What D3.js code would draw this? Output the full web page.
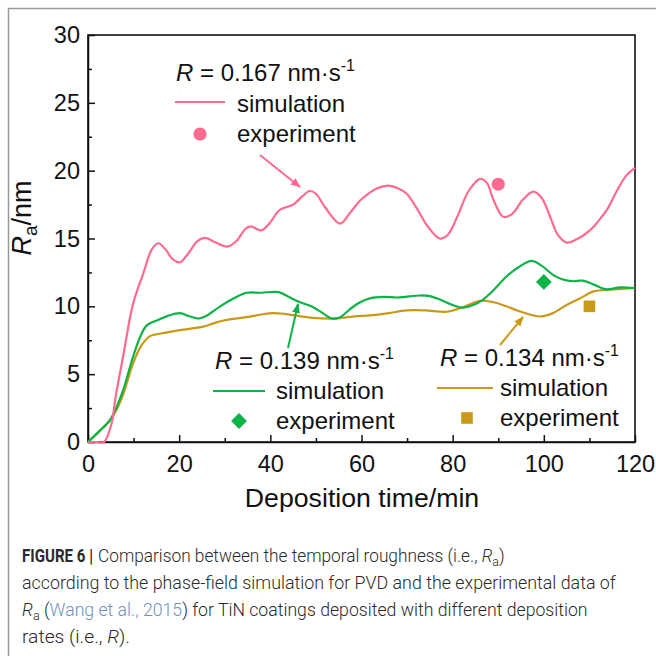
<!DOCTYPE html>
<html>
<head>
<meta charset="utf-8">
<script src="https://cdn.jsdelivr.net/npm/d3@7"></script>
<style>
  body { margin: 0; background: #fff; }
  svg { display: block; }
  .axis text { font-family: "Liberation Sans", Arial, sans-serif; font-size: 23.5px; fill: #111; }
  .axis path, .axis line { stroke: #111; stroke-width: 1.5; }
  .lbl { font-family: "Liberation Sans", Arial, sans-serif; font-size: 24px; fill: #111; }
  .cap { font-family: Roboto, "Liberation Sans", sans-serif; font-size: 17.5px; font-weight: 300; fill: #2a2a2a; }
</style>
</head>
<body>
<div class="chart"></div>
<script>
// pink: R = 0.167 nm/s
const timePink = [0,2,3.5,5.2,6,7.7,9.9,12.1,14,15.4,17,18.5,20.2,22,24,25.7,28,30.5,32.5,34.5,35.7,38,40,42,45,47,48.6,50,52,55.3,57.5,59.7,61.1,63.5,65.9,68,69.9,72,74.5,77.2,79,81,83.5,86,87.5,89,91.1,93,95.5,97.7,99.5,101.5,103,105,107,110.1,112,114,116,118,120];
const raPink   = [0,0,0,1.4,3.2,6.3,10.2,12.4,14.2,14.65,14.2,13.5,13.25,13.9,14.8,15.05,14.7,14.4,14.8,15.7,15.9,15.6,16.2,17.1,17.5,18.1,18.5,18.3,17.3,16.1,16.9,17.8,18.2,18.7,18.9,18.7,18.3,17.3,15.9,15.0,15.3,16.6,18.5,19.4,19.1,17.8,16.6,16.8,17.9,18.45,18.0,16.5,15.3,14.7,14.9,15.6,16.3,17.2,18.5,19.6,20.2];

// green: R = 0.139 nm/s
const timeGreen = [0,2.5,4.8,6.3,7.7,9.9,11.5,12.9,15.4,17.5,20.2,22,24.2,26,29,32,34.8,38,41.8,44,46.5,49,51.5,53.5,55.3,57.5,59.7,62,64.8,68,72.8,75,77.2,80,82.3,84.5,86.7,89,91.8,94.5,97.3,99.5,102.1,104,106.5,108.5,111,113.8,116.7,120];
const raGreen   = [0,0.8,1.6,2.6,3.8,6.3,7.8,8.6,9.0,9.3,9.5,9.3,9.1,9.3,10.0,10.6,11.0,11.0,11.05,10.7,10.3,10.0,9.5,9.1,9.2,9.8,10.3,10.6,10.7,10.65,10.8,10.75,10.5,10.1,9.9,10.1,10.5,11.2,12.2,12.9,13.35,13.0,12.3,12.0,11.85,11.9,11.6,11.25,11.4,11.35];

// gold: R = 0.134 nm/s
const timeGold = [0,2.5,4.8,6.3,7.7,9.9,11.5,13.6,16,20.2,25.3,28,30.4,34.8,38,40.6,43,45,49.4,53.8,57,59.7,62.6,66,69.9,74,78.7,82,86,89,91.8,95,99.2,102,105,108,110.9,113,115.3,118,120];
const raGold   = [0,0.8,1.6,2.4,3.5,5.8,7.0,7.8,8.0,8.25,8.5,8.8,9.0,9.2,9.4,9.5,9.45,9.35,9.15,9.1,9.2,9.3,9.35,9.5,9.7,9.7,9.6,9.9,10.4,10.3,10.0,9.6,9.25,9.5,10.1,10.6,11.1,11.2,11.25,11.3,11.35];

// experimental points
const expTime = [90, 100, 110];
const expRa   = [19.0, 11.8, 10.0];

const rates = ["0.167", "0.139", "0.134"];
const xTicks = [0,20,40,60,80,100,120];
const yTicks = [0,5,10,15,20,25,30];

const colors = ["#ff6b8f", "#0db347", "#c99a1a"];

const W = 656, H = 656;
const margin = {top: 35, right: 21, bottom: 214, left: 88};
const width = W - margin.left - margin.right;
const height = H - margin.top - margin.bottom;

const svg = d3.select(".chart").append("svg")
    .attr("width", W).attr("height", H);

// outer figure frame (top + left only visible)
svg.append("path")
    .attr("d", "M8.5,656 L8.5,8.5 L656,8.5")
    .attr("fill", "none").attr("stroke", "#999").attr("stroke-width", 1.5);

const g = svg.append("g").attr("transform", `translate(${margin.left},${margin.top})`);

const x = d3.scaleLinear().domain([0,120]).range([0,width]);
const y = d3.scaleLinear().domain([0,30]).range([height,0]);

// minor ticks
g.append("g").attr("class","axis")
    .attr("transform", `translate(0,${height})`)
    .call(d3.axisBottom(x).tickValues([10,30,50,70,90,110]).tickSize(-4).tickFormat(""))
    .call(a => a.select(".domain").remove());
g.append("g").attr("class","axis")
    .call(d3.axisLeft(y).tickValues(d3.range(2.5,30,5)).tickSize(-4).tickFormat(""))
    .call(a => a.select(".domain").remove());

// major axes
g.append("g").attr("class","axis")
    .attr("transform", `translate(0,${height})`)
    .call(d3.axisBottom(x).tickValues(xTicks).tickSizeInner(-7).tickSizeOuter(0).tickPadding(13));
g.append("g").attr("class","axis")
    .call(d3.axisLeft(y).tickValues(yTicks).tickSizeInner(-7).tickSizeOuter(0).tickPadding(8));

// plot frame
g.append("rect")
    .attr("width", width).attr("height", height)
    .attr("fill","none").attr("stroke","#111").attr("stroke-width",1.6);

// curves
const series = [
  {t: timePink,  v: raPink},
  {t: timeGreen, v: raGreen},
  {t: timeGold,  v: raGold}
];
const line = d3.line().x(d => x(d[0])).y(d => y(d[1])).curve(d3.curveCatmullRom.alpha(0.5));
// draw gold first, then green, then pink
[2,1,0].forEach(i => {
  const pts = series[i].t.map((t,j) => [t, series[i].v[j]]);
  g.append("path").datum(pts)
    .attr("fill","none").attr("stroke", colors[i]).attr("stroke-width", 2.2)
    .attr("d", line);
});

// experiment markers: circle, diamond (rotated square), square
const symSize = [135, 125, 135];
function marker(sel, i, px, py) {
  let s = d3.symbol().type(i === 0 ? d3.symbolCircle : d3.symbolSquare).size(symSize[i]);
  sel.append("path")
    .attr("d", s())
    .attr("transform", `translate(${px},${py})` + (i === 1 ? " rotate(45)" : ""))
    .attr("fill", colors[i]);
}
expTime.forEach((t,i) => marker(g, i, x(t), y(expRa[i])));

// annotations (absolute coords)
const ann = [
  {tx: 176, ty: 81,  lx1: 175, lx2: 225, ly: 102, st: 237, sy: 112, my: 134, mx: 200, ey: 142,
   a: [260,155,300,187]},
  {tx: 215, ty: 369, lx1: 213, lx2: 265, ly: 391, st: 276, sy: 399, my: 421, mx: 239, ey: 429,
   a: [288,348,298,304]},
  {tx: 440, ty: 366, lx1: 437, lx2: 493, ly: 388, st: 500, sy: 396, my: 418, mx: 467, ey: 426,
   a: [500,345,523,317]}
];

const defs = svg.append("defs");
ann.forEach((d,i) => {
  defs.append("marker").attr("id","ah"+i)
    .attr("viewBox","0 0 10 10").attr("refX",9).attr("refY",5)
    .attr("markerWidth",5).attr("markerHeight",5).attr("orient","auto")
    .attr("markerUnits","strokeWidth")
    .append("path").attr("d","M0,1 L10,5 L0,9 Z").attr("fill", colors[i]);

  const t = svg.append("text").attr("class","lbl").attr("x", d.tx).attr("y", d.ty);
  t.append("tspan").attr("font-style","italic").text("R");
  t.append("tspan").text(" = " + rates[i] + " nm·s");
  t.append("tspan").attr("font-size","16px").attr("dy","-10").text("-1");

  svg.append("line")
    .attr("x1", d.lx1).attr("x2", d.lx2).attr("y1", d.ly).attr("y2", d.ly)
    .attr("stroke", colors[i]).attr("stroke-width", 2);
  svg.append("text").attr("class","lbl").attr("x", d.st).attr("y", d.sy).text("simulation");
  marker(svg, i, d.mx, d.my);
  svg.append("text").attr("class","lbl").attr("x", d.st).attr("y", d.ey).text("experiment");

  svg.append("line")
    .attr("x1", d.a[0]).attr("y1", d.a[1]).attr("x2", d.a[2]).attr("y2", d.a[3])
    .attr("stroke", colors[i]).attr("stroke-width", 2)
    .attr("marker-end", `url(#ah${i})`);
});

// axis titles
svg.append("text").attr("class","lbl")
    .attr("x", 362).attr("y", 507)
    .attr("text-anchor","middle").style("font-size","26.7px")
    .text("Deposition time/min");

const yt = svg.append("text").attr("class","lbl")
    .attr("transform","translate(31,218) rotate(-90)")
    .attr("text-anchor","middle").style("font-size","27px");
yt.append("tspan").attr("font-style","italic").text("R");
yt.append("tspan").attr("font-size","19px").attr("dy","6").text("a");
yt.append("tspan").attr("dy","-6").text("/nm");

// caption: each line squeezed/stretched horizontally to its width in the figure
const capLayer = svg.append("g");
function capLine(x0, y0, target, build) {
  const gg = capLayer.append("g");
  const t = gg.append("text").attr("class","cap");
  build(t);
  const w = t.node().getComputedTextLength();
  gg.attr("transform", `translate(${x0},${y0}) scale(${target / w},1)`);
}

function drawCaption() {
  capLayer.selectAll("*").remove();
  capLine(22, 562, 71, t => t.style("font-weight","bold").attr("fill","#111").text("FIGURE 6 |"));
  capLine(98, 562, 407, t => {
    t.append("tspan").text("Comparison between the temporal roughness (i.e., ");
    t.append("tspan").attr("font-style","italic").text("R");
    t.append("tspan").attr("font-size","12.5px").attr("dy","4").text("a");
    t.append("tspan").attr("dy","-4").text(")");
  });
  capLine(22, 589, 594, t => t.text("according to the phase-field simulation for PVD and the experimental data of"));
  capLine(22, 616, 566, t => {
    t.append("tspan").attr("font-style","italic").text("R");
    t.append("tspan").attr("font-size","12.5px").attr("dy","4").text("a");
    t.append("tspan").attr("dy","-4").text(" (");
    t.append("tspan").attr("fill","#6f92bd").text("Wang et al., 2015");
    t.append("tspan").text(") for TiN coatings deposited with different deposition");
  });
  capLine(22, 643, 108, t => {
    t.append("tspan").text("rates (i.e., ");
    t.append("tspan").attr("font-style","italic").text("R");
    t.append("tspan").text(").");
  });
}
drawCaption();
if (document.fonts && document.fonts.ready) document.fonts.ready.then(drawCaption);
</script>
</body>
</html>
